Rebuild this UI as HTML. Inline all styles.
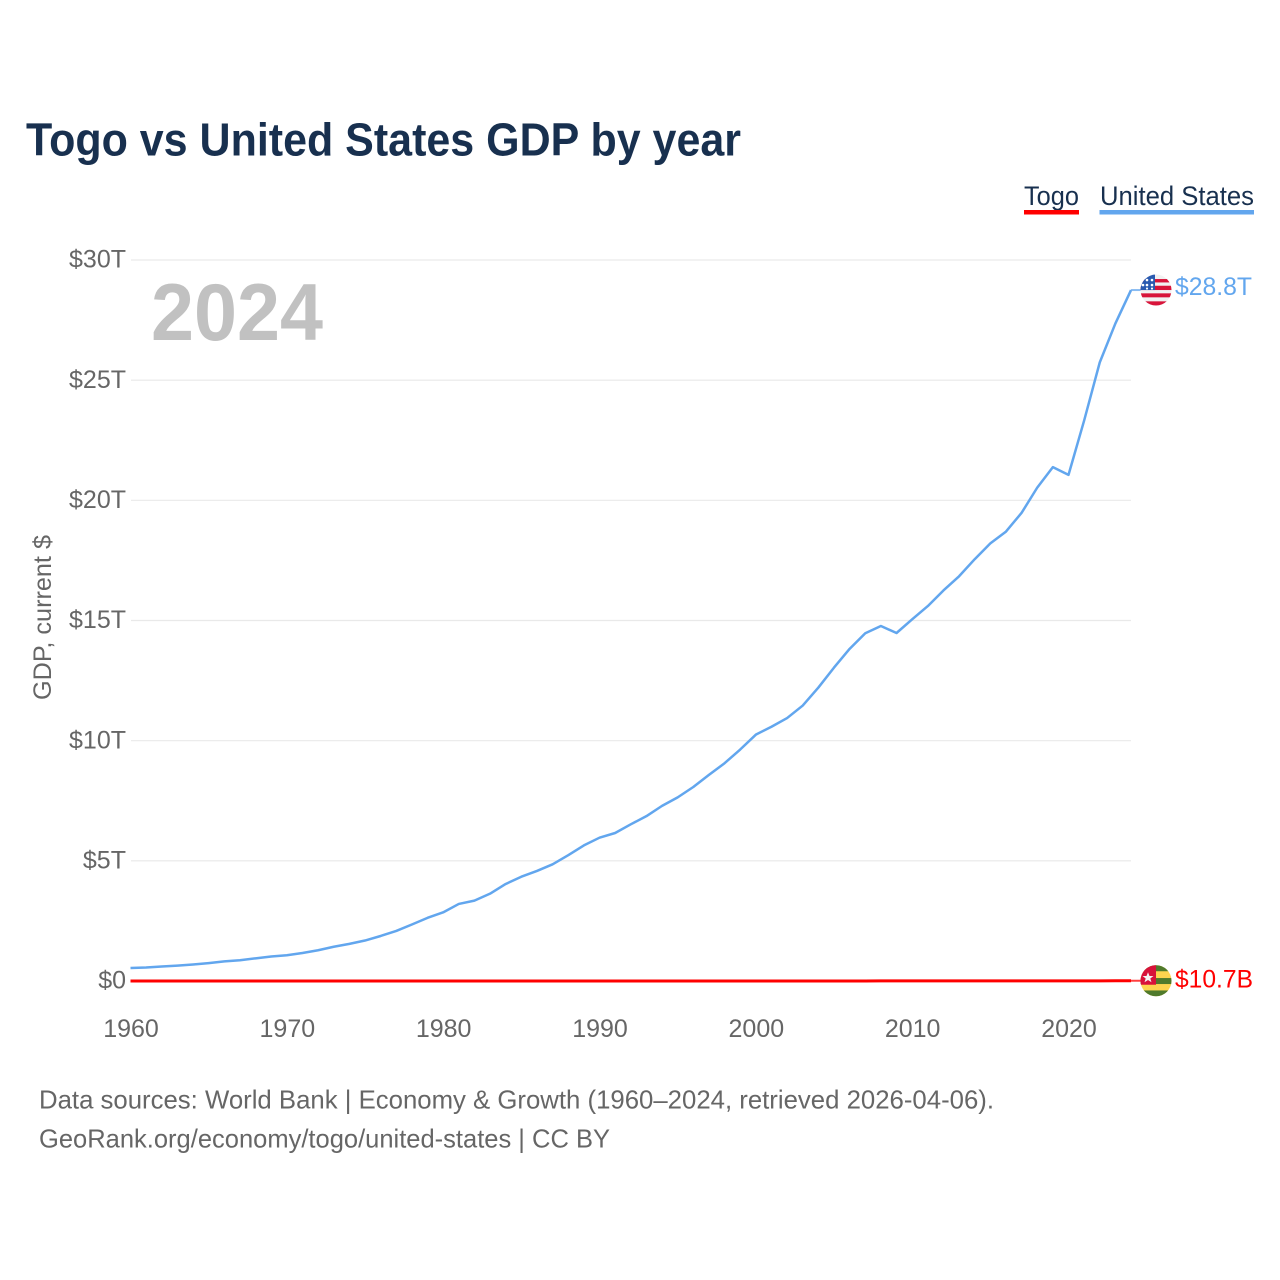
<!DOCTYPE html>
<html lang="en">
<head>
<meta charset="utf-8">
<title>Togo vs United States GDP by year</title>
<style>
html,body{margin:0;padding:0;background:#fff;}
svg{display:block;}
text{font-family:"Liberation Sans",sans-serif;}
.tick{font-size:25px;fill:#666;}
.foot{font-size:26px;fill:#666;}
</style>
</head>
<body>
<svg id="chart" xmlns="http://www.w3.org/2000/svg" width="1280" height="1280" viewBox="0 0 1280 1280">
  <defs>
    <clipPath id="flag-clip"><circle cx="0" cy="0" r="15.5"></circle></clipPath>
  </defs>
  <rect x="0" y="0" width="1280" height="1280" fill="#fff"></rect>
  <text x="26" y="155.5" font-size="46" font-weight="700" fill="#18304f" textLength="715" lengthAdjust="spacingAndGlyphs">Togo vs United States GDP by year</text>

  <g>
    <text x="1024" y="205" font-size="27" fill="#18304f" textLength="55" lengthAdjust="spacingAndGlyphs">Togo</text>
    <rect x="1024" y="210" width="55" height="4.5" fill="#ff0000"></rect>
  </g>
  <g>
    <text x="1100" y="205" font-size="27" fill="#18304f" textLength="154" lengthAdjust="spacingAndGlyphs">United States</text>
    <rect x="1099.5" y="210" width="154.5" height="4.5" fill="#62a6ee"></rect>
  </g>

  <g id="grid"></g>
  <g id="yticks"></g>
  <g id="xticks"></g>

  <text x="151" y="340" font-size="81" font-weight="700" fill="#c1c1c1" textLength="172" lengthAdjust="spacingAndGlyphs">2024</text>
  <text transform="translate(51,700) rotate(-90)" font-size="25" fill="#666" textLength="165" lengthAdjust="spacingAndGlyphs">GDP, current $</text>

  <g id="series"></g>

  <g id="flag-us">
    <g clip-path="url(#flag-clip)">
      <rect x="-16" y="-16" width="32" height="32" fill="#f1f1f1"></rect>
      <rect x="-16" y="-11" width="32" height="3.4" fill="#d8143a"></rect>
      <rect x="-16" y="-4.3" width="32" height="4.3" fill="#d8143a"></rect>
      <rect x="-16" y="3.3" width="32" height="4" fill="#d8143a"></rect>
      <rect x="-16" y="11.3" width="32" height="4.5" fill="#d8143a"></rect>
      <rect x="-16" y="-16" width="15" height="16" fill="#2a5ab0"></rect>
      <circle cx="-4" cy="-10" r="1.3" fill="#fff"></circle>
      <circle cx="-9" cy="-10" r="1.3" fill="#fff"></circle>
      <circle cx="-4" cy="-5" r="1.3" fill="#fff"></circle>
      <circle cx="-9" cy="-5" r="1.3" fill="#fff"></circle>
      <circle cx="-13" cy="-5" r="1.3" fill="#fff"></circle>
      <circle cx="-4" cy="-1.5" r="1.1" fill="#fff"></circle>
      <circle cx="-9" cy="-1.5" r="1.1" fill="#fff"></circle>
    </g>
  </g>
  <g id="flag-togo">
    <g clip-path="url(#flag-clip)">
      <rect x="-16" y="-16" width="32" height="32" fill="#fdd44f"></rect>
      <rect x="-16" y="-16" width="32" height="6.5" fill="#4f7a2c"></rect>
      <rect x="-16" y="-2.7" width="32" height="6" fill="#4f7a2c"></rect>
      <rect x="-16" y="9.7" width="32" height="6.5" fill="#4f7a2c"></rect>
      <rect x="-16" y="-16" width="16" height="20" fill="#d8123a"></rect>
      <polygon points="-8,-8.5 -6.5,-4.7 -2.5,-4.7 -5.7,-2.3 -4.5,1.5 -8,-0.8 -11.5,1.5 -10.3,-2.3 -13.5,-4.7 -9.5,-4.7" fill="#f4f4f4"></polygon>
    </g>
  </g>

  <text id="label-us" x="1175" y="296" font-size="25" fill="#62a6ee" textLength="77" lengthAdjust="spacingAndGlyphs"></text>
  <text id="label-togo" x="1175" y="988" font-size="25" fill="#ff0000" textLength="78" lengthAdjust="spacingAndGlyphs"></text>

  <text class="foot" x="39" y="1108.5" textLength="955" lengthAdjust="spacingAndGlyphs">Data sources: World Bank | Economy &amp; Growth (1960–2024, retrieved 2026-04-06).</text>
  <text class="foot" x="39" y="1147.5" textLength="571" lengthAdjust="spacingAndGlyphs">GeoRank.org/economy/togo/united-states | CC BY</text>
</svg>
<script>
var startYear = 1960;
var usGdpTrillions = [0.543,0.563,0.605,0.639,0.686,0.744,0.815,0.862,0.943,1.019,1.073,1.165,1.28,1.425,1.545,1.684,1.873,2.082,2.352,2.627,2.857,3.207,3.343,3.634,4.037,4.339,4.579,4.855,5.236,5.642,5.963,6.158,6.52,6.859,7.287,7.64,8.073,8.578,9.063,9.631,10.25,10.58,10.94,11.46,12.21,13.04,13.82,14.47,14.77,14.48,15.05,15.6,16.25,16.84,17.55,18.21,18.7,19.48,20.53,21.38,21.06,23.32,25.74,27.36,28.75];
var togoGdpTrillions = [0.00012,0.00013,0.00014,0.00015,0.00017,0.00019,0.00022,0.00023,0.00025,0.00028,0.00025,0.00029,0.00035,0.00038,0.00052,0.00062,0.00065,0.00079,0.00097,0.0011,0.0011,0.00095,0.00079,0.00076,0.00075,0.00076,0.00107,0.00125,0.00145,0.00142,0.00163,0.00160,0.00165,0.00110,0.00098,0.00131,0.00144,0.00143,0.00148,0.00148,0.00133,0.00133,0.00147,0.00167,0.00194,0.00212,0.00238,0.00260,0.00317,0.00316,0.00342,0.00392,0.00394,0.00430,0.00455,0.00417,0.00444,0.00479,0.00540,0.00534,0.00587,0.00733,0.00755,0.00920,0.0107];
var yTickValues = [0,5,10,15,20,25,30];
var yTickLabels = ["$0","$5T","$10T","$15T","$20T","$25T","$30T"];
var xTickValues = [1960,1970,1980,1990,2000,2010,2020];
var xTickLabels = ["1960","1970","1980","1990","2000","2010","2020"];
var usEndLabel = "$28.8T";
var togoEndLabel = "$10.7B";

var NS = "http://www.w3.org/2000/svg";
function xScale(year) { return 130.5 + (year - 1960) * (938 / 60); }
function yScale(v) { return 981 - v * (721 / 30); }
function make(tag, parent, attrs) {
  var el = document.createElementNS(NS, tag);
  for (var k in attrs) { el.setAttribute(k, attrs[k]); }
  parent.appendChild(el);
  return el;
}
var gridG = document.getElementById("grid");
var yG = document.getElementById("yticks");
var xG = document.getElementById("xticks");
var seriesG = document.getElementById("series");

yTickValues.forEach(function (v, i) {
  if (v !== 0) {
    var line = make("line", gridG, { x1: 131, x2: 1131, y1: yScale(v), y2: yScale(v), stroke: "#e9e9e9", "stroke-width": 1.2 });
    
    
  }
  var t = make("text", yG, { x: 126, y: yScale(v) + 7.6, "text-anchor": "end", "class": "tick" });
  
  
  t.textContent = yTickLabels[i];
});
xTickValues.forEach(function (yr, i) {
  var t = make("text", xG, { x: xScale(yr) + 0.5, y: 1037, "text-anchor": "middle", "class": "tick" });
  
  
  t.textContent = xTickLabels[i];
});

function linePoints(values) {
  return values.map(function (v, i) {
    return xScale(startYear + i).toFixed(2) + "," + yScale(v).toFixed(2);
  }).join(" ");
}
function drawSeries(values, color, width, flagId) {
  var lastX = xScale(startYear + values.length - 1);
  var lastY = yScale(values[values.length - 1]);
  var conn = make("line", seriesG, { x1: lastX, x2: 1142, y1: lastY, y2: lastY, stroke: color, "stroke-width": 2, opacity: 0.75 });
  
  
  var line = make("polyline", seriesG, { points: linePoints(values), fill: "none", stroke: color, "stroke-width": width, "stroke-linejoin": "round" });
  
  
  document.getElementById(flagId).setAttribute("transform", "translate(1156," + lastY + ")");
  return lastY;
}
var usY = drawSeries(usGdpTrillions, "#62a6ee", 2.5, "flag-us");
var togoY = drawSeries(togoGdpTrillions, "#ff0000", 3, "flag-togo");
var labelUs = document.getElementById("label-us");
labelUs.textContent = usEndLabel;
labelUs.setAttribute("y", usY + 5);
var labelTogo = document.getElementById("label-togo");
labelTogo.textContent = togoEndLabel;
labelTogo.setAttribute("y", togoY + 7);
</script>
</body>
</html>
